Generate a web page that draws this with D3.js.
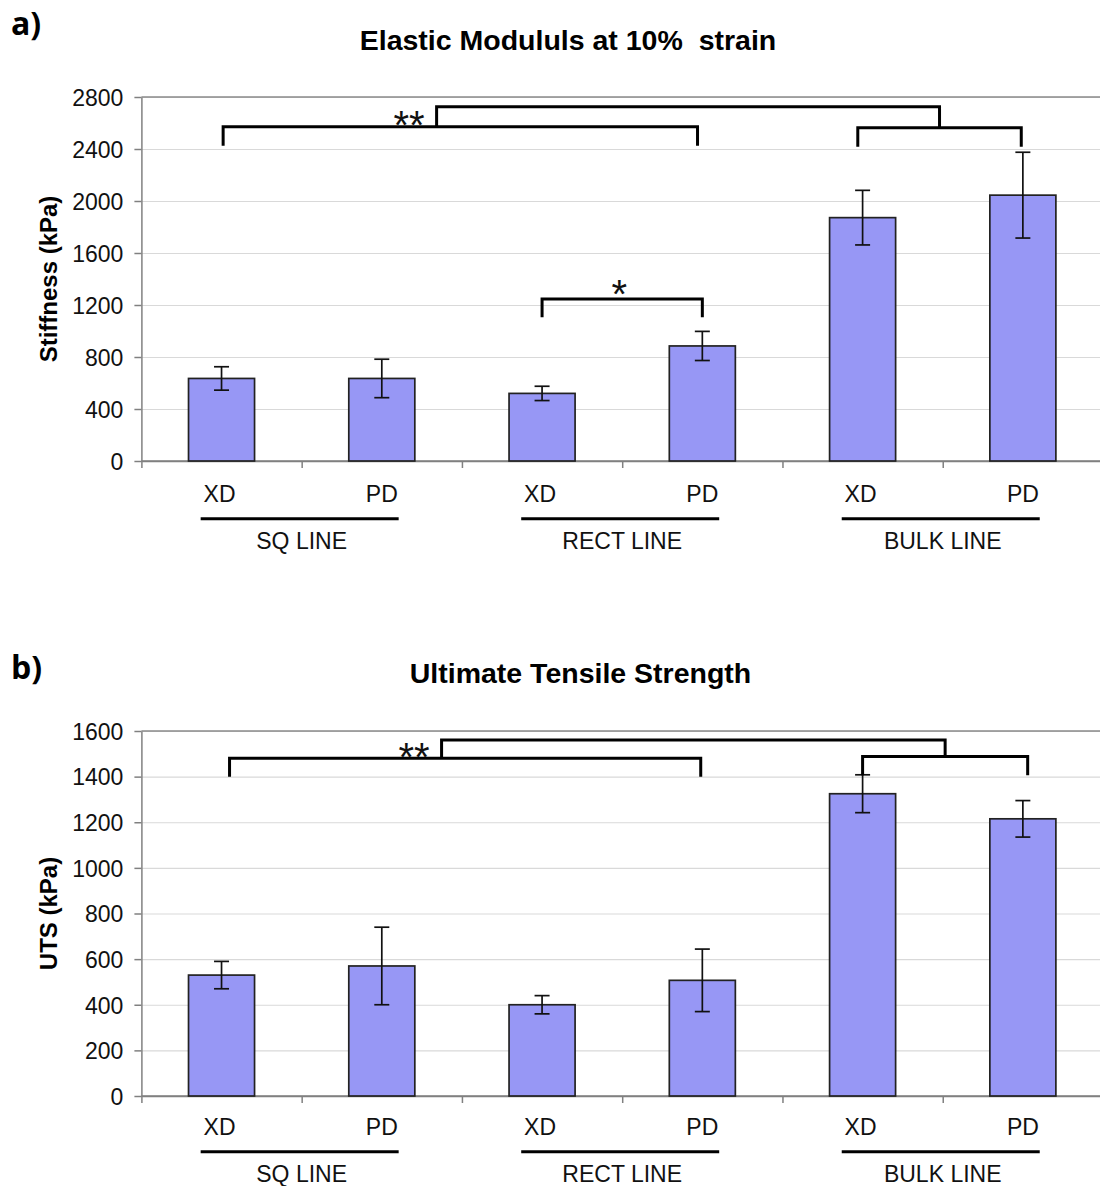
<!DOCTYPE html>
<html><head><meta charset="utf-8">
<script src="https://cdn.jsdelivr.net/npm/d3@7"></script>
<style>body{margin:0;background:#fff} svg{display:block}</style>
</head><body><svg id="chart" width="1100" height="1186"></svg>
<script>
// ---------- data ----------
const categories = ["XD", "PD", "XD", "PD", "XD", "PD"];
const groups = ["SQ LINE", "RECT LINE", "BULK LINE"];

const stiffnessMean = [635, 635, 520, 885, 1872, 2045];
const stiffnessErr  = [90, 148, 55, 112, 210, 330];
const stiffnessTicks = [0, 400, 800, 1200, 1600, 2000, 2400, 2800];

const utsMean = [530, 570, 400, 507, 1325, 1215];
const utsErr  = [60, 170, 40, 137, 83, 80];
const utsTicks = [0, 200, 400, 600, 800, 1000, 1200, 1400, 1600];

// significance annotations: category positions (fractional) and value levels
const stiffnessSig = {
  pairA: {from: 0.01, to: 2.97, level: 2572, leg: 2425},
  pairB: {from: 3.97, to: 4.99, level: 2564, leg: 2418},
  joinLevel: 2725, joinLabel: "**",
  single: {from: 2.0, to: 3.0, level: 1246, leg: 1105, label: "*"}
};
const utsSig = {
  pairA: {from: 0.05, to: 2.99, level: 1481, leg: 1400},
  pairB: {from: 4.0, to: 5.03, level: 1488, leg: 1406},
  joinLevel: 1561, joinLabel: "**",
  single: null
};

// ---------- drawing ----------
const svg = d3.select("#chart");
const W = 1100;
const plotLeft = 141.4, plotRight = 1103;
const barColor = "#9797f5";

function drawPanel(p) {
  const g = svg.append("g");
  const y = d3.scaleLinear().domain([0, p.max]).range([p.bottom, p.top]);
  const xBand = d3.scaleBand().domain(d3.range(categories.length)).range([plotLeft, plotRight]).padding(0);
  const xLin = d3.scaleLinear().domain([0, categories.length]).range([plotLeft, plotRight]);
  const bw = xBand.bandwidth();
  const barW = bw * 0.412;
  const cx = i => xBand(i) + bw / 2;
  const cpos = c => xLin(c + 0.5);

  // gridlines
  g.append("g").attr("transform", `translate(${plotLeft},0)`)
    .call(d3.axisLeft(y).tickValues(p.ticks).tickSize(-(W - plotLeft)).tickFormat(""))
    .call(a => a.select(".domain").remove())
    .call(a => a.selectAll("line").attr("stroke", "#d9d9d9").attr("stroke-width", 1.2));
  // top border
  g.append("line").attr("x1", plotLeft).attr("x2", W).attr("y1", y(p.max)).attr("y2", y(p.max))
    .attr("stroke", "#8a8a8a").attr("stroke-width", 1.5);

  // y axis
  g.append("g").attr("transform", `translate(${plotLeft},0)`)
    .call(d3.axisLeft(y).tickValues(p.ticks).tickFormat(d3.format("d")).tickSize(7).tickPadding(11).tickSizeOuter(0))
    .call(a => a.select(".domain").attr("stroke", "#808080").attr("stroke-width", 1.5))
    .call(a => a.selectAll("line").attr("stroke", "#808080").attr("stroke-width", 1.5))
    .call(a => a.selectAll("text").attr("font-family", "Liberation Sans, Arial, sans-serif")
      .attr("font-size", 23).attr("fill", "#111").attr("dy", "0.36em"));

  // x axis with boundary ticks
  g.append("g").attr("transform", `translate(0,${p.bottom})`)
    .call(d3.axisBottom(xLin).tickValues(d3.range(categories.length + 1)).tickSize(7).tickFormat("").tickSizeOuter(0))
    .call(a => a.select(".domain").attr("stroke", "#808080").attr("stroke-width", 1.5))
    .call(a => a.selectAll("line").attr("stroke", "#808080").attr("stroke-width", 1.5));
  g.append("line").attr("x1", plotLeft).attr("x2", W).attr("y1", p.bottom).attr("y2", p.bottom)
    .attr("stroke", "#808080").attr("stroke-width", 1.5);

  // bars
  g.selectAll("rect.bar").data(p.values).join("rect").attr("class", "bar")
    .attr("x", (d, i) => cx(i) - barW / 2).attr("width", barW)
    .attr("y", d => y(d)).attr("height", d => y(0) - y(d))
    .attr("fill", barColor).attr("stroke", "#222").attr("stroke-width", 1.7);

  // error bars
  const eb = g.selectAll("g.err").data(p.values).join("g").attr("class", "err")
    .attr("stroke", "#111").attr("stroke-width", 1.7);
  eb.append("line").attr("x1", (d, i) => cx(i)).attr("x2", (d, i) => cx(i))
    .attr("y1", (d, i) => y(d + p.errs[i])).attr("y2", (d, i) => y(d - p.errs[i]));
  eb.append("line").attr("x1", (d, i) => cx(i) - 7.5).attr("x2", (d, i) => cx(i) + 7.5)
    .attr("y1", (d, i) => y(d + p.errs[i])).attr("y2", (d, i) => y(d + p.errs[i]));
  eb.append("line").attr("x1", (d, i) => cx(i) - 7.5).attr("x2", (d, i) => cx(i) + 7.5)
    .attr("y1", (d, i) => y(d - p.errs[i])).attr("y2", (d, i) => y(d - p.errs[i]));

  // category labels
  g.selectAll("text.cat").data(categories).join("text").attr("class", "cat")
    .attr("x", (d, i) => cx(i) - (d === "XD" ? 2 : 0)).attr("y", p.bottom + p.catDy)
    .attr("text-anchor", "middle").attr("font-family", "Liberation Sans, Arial, sans-serif")
    .attr("font-size", 23).attr("fill", "#111").text(d => d);

  // group underline + labels
  groups.forEach((name, k) => {
    const gc = xLin(2 * k + 1);
    g.append("line").attr("x1", gc - 101).attr("x2", gc + 97)
      .attr("y1", p.bottom + p.ulDy).attr("y2", p.bottom + p.ulDy)
      .attr("stroke", "#000").attr("stroke-width", 3);
    g.append("text").attr("x", gc).attr("y", p.bottom + p.grpDy).attr("text-anchor", "middle")
      .attr("font-family", "Liberation Sans, Arial, sans-serif").attr("font-size", 23)
      .attr("fill", "#111").text(name);
  });

  // significance brackets
  const s = p.sig;
  const bracketPath = b => {
    const x1 = cpos(b.from), x2 = cpos(b.to);
    return `M${x1},${y(b.leg)}V${y(b.level)}H${x2}V${y(b.leg)}`;
  };
  const br = g.append("g").attr("fill", "none").attr("stroke", "#000").attr("stroke-width", 3);
  br.append("path").attr("d", bracketPath(s.pairA));
  br.append("path").attr("d", bracketPath(s.pairB));
  const joinL = cpos(s.pairA.from) + 0.45 * (cpos(s.pairA.to) - cpos(s.pairA.from));
  const joinR = (cpos(s.pairB.from) + cpos(s.pairB.to)) / 2;
  br.append("path").attr("d", `M${joinL},${y(s.pairA.level)}V${y(s.joinLevel)}H${joinR}V${y(s.pairB.level)}`);
  const starY = (y(s.joinLevel) + y(s.pairA.level)) / 2;
  g.append("text").attr("x", joinL - 12).attr("y", starY + 0.55 * 40).attr("text-anchor", "end")
    .attr("font-family", "Liberation Sans, Arial, sans-serif").attr("font-size", 40)
    .attr("fill", "#111").text(s.joinLabel);
  if (s.single) {
    br.append("path").attr("d", bracketPath(s.single));
    const mx = (cpos(s.single.from) + cpos(s.single.to)) / 2 - 3;
    g.append("text").attr("x", mx).attr("y", y(s.single.level) - 13.5 + 0.55 * 40)
      .attr("text-anchor", "middle").attr("font-family", "Liberation Sans, Arial, sans-serif")
      .attr("font-size", 40).attr("fill", "#111").text(s.single.label);
  }

  // y title
  g.append("text").attr("transform", `translate(57,${(p.top + p.bottom) / 2}) rotate(-90)`)
    .attr("text-anchor", "middle").attr("font-family", "Liberation Sans, Arial, sans-serif")
    .attr("font-weight", "bold").attr("font-size", 24).attr("fill", "#000").text(p.yTitle);

  // chart title
  g.append("text").attr("x", p.titleX).attr("y", p.titleY).attr("text-anchor", "middle")
    .attr("font-family", "Liberation Sans, Arial, sans-serif").attr("font-weight", "bold")
    .attr("font-size", 28.5).attr("fill", "#000").style("white-space", "pre").text(p.title);

  // panel label
  g.append("text").attr("x", 11).attr("y", p.labelY)
    .attr("font-family", "Open Sans, sans-serif").attr("font-weight", "bold")
    .attr("font-size", 32).attr("fill", "#000").text(p.label);
}

drawPanel({
  top: 97, bottom: 461, max: 2800, ticks: stiffnessTicks,
  values: stiffnessMean, errs: stiffnessErr, sig: stiffnessSig,
  catDy: 40.5, ulDy: 57.7, grpDy: 88,
  yTitle: "Stiffness (kPa)", title: "Elastic Modululs at 10%\u00a0 strain",
  titleX: 568, titleY: 50, label: "a)", labelY: 35
});
drawPanel({
  top: 731, bottom: 1096, max: 1600, ticks: utsTicks,
  values: utsMean, errs: utsErr, sig: utsSig,
  catDy: 39, ulDy: 55.7, grpDy: 85.5,
  yTitle: "UTS (kPa)", title: "Ultimate Tensile Strength",
  titleX: 580.5, titleY: 683, label: "b)", labelY: 679
});
</script>
</body></html>
